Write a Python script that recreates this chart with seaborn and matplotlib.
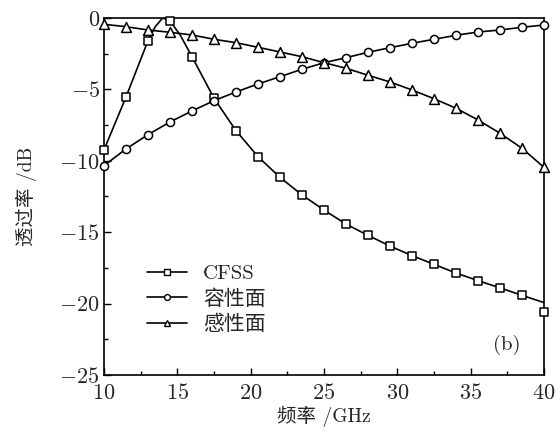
import matplotlib
matplotlib.use("Agg")
import matplotlib.pyplot as plt
from matplotlib.lines import Line2D
from matplotlib.ticker import MultipleLocator
import seaborn as sns
import pandas as pd

# ---- data ----
freq_markers = [10, 11.5, 13, 14.5, 16, 17.5, 19, 20.5, 22, 23.5, 25,
                26.5, 28, 29.5, 31, 32.5, 34, 35.5, 37, 38.5, 40]
cfss_markers = [-9.24, -5.53, -1.59, -0.19, -2.71, -5.62, -7.89, -9.71, -11.16,
                -12.39, -13.45, -14.43, -15.22, -15.97, -16.64, -17.25, -17.86,
                -18.39, -18.90, -19.42, -20.57]
cap_markers = [-10.34, -9.17, -8.17, -7.28, -6.51, -5.79, -5.18, -4.62, -4.11,
               -3.59, -3.13, -2.78, -2.40, -2.08, -1.77, -1.49, -1.21, -0.98,
               -0.84, -0.65, -0.49]
ind_markers = [-0.44, -0.61, -0.84, -1.00, -1.19, -1.49, -1.73, -2.05, -2.38,
               -2.71, -3.13, -3.52, -4.01, -4.48, -5.04, -5.65, -6.32, -7.14,
               -8.07, -9.12, -10.46]

cfss_line_x = [10, 11.5, 13, 13.5, 14.0, 14.5, 15.2, 16, 17.5, 19, 20.5, 22,
               23.5, 25, 26.5, 28, 29.5, 31, 32.5, 34, 35.5, 37, 38.5, 40]
cfss_line_y = [-9.24, -5.53, -1.59, -0.6, 0.0, -0.2, -1.2, -2.71, -5.62, -7.89,
               -9.71, -11.16, -12.39, -13.45, -14.43, -15.22, -15.97, -16.64,
               -17.25, -17.86, -18.39, -18.90, -19.42, -19.93]

labels = ["CFSS", "容性面", "感性面"]
marker_styles = ["s", "o", "^"]

sns.set_theme(style="white")
plt.rcParams["font.family"] = ["cmr10", "Noto Sans CJK SC", "DejaVu Sans"]
plt.rcParams["mathtext.fontset"] = "cm"
plt.rcParams["axes.formatter.use_mathtext"] = True
plt.rcParams["axes.unicode_minus"] = True

fig = plt.figure(figsize=(5.55, 4.36), dpi=100)
ax = fig.add_axes([104 / 555, 61 / 436, 440 / 555, 357 / 436])

lw = 1.2
mew = 1.1

df_line_cfss = pd.DataFrame({"x": cfss_line_x, "y": cfss_line_y})
sns.lineplot(data=df_line_cfss, x="x", y="y", ax=ax, color="black", lw=lw,
             zorder=2, sort=False)
df_cap = pd.DataFrame({"x": freq_markers, "y": cap_markers})
sns.lineplot(data=df_cap, x="x", y="y", ax=ax, color="black", lw=lw, zorder=2)
df_ind = pd.DataFrame({"x": freq_markers, "y": ind_markers})
sns.lineplot(data=df_ind, x="x", y="y", ax=ax, color="black", lw=lw, zorder=2)

for yvals, mk, msz in [(cfss_markers, "s", 28), (cap_markers, "o", 34), (ind_markers, "^", 50)]:
    d = pd.DataFrame({"x": freq_markers, "y": yvals})
    sns.scatterplot(data=d, x="x", y="y", ax=ax, marker=mk, s=msz,
                    facecolor="white", edgecolor="black", linewidth=mew,
                    zorder=3, clip_on=False)

ax.set_xlim(10, 40)
ax.set_ylim(-25, 0)
ax.xaxis.set_major_locator(MultipleLocator(5))
ax.xaxis.set_minor_locator(MultipleLocator(2.5))
ax.yaxis.set_major_locator(MultipleLocator(5))
ax.yaxis.set_minor_locator(MultipleLocator(2.5))
ax.tick_params(which="both", direction="in", top=False, right=False,
               bottom=True, left=True, color="black")
ax.tick_params(which="major", length=5, width=1.0, labelsize=16)
ax.tick_params(axis="x", which="major", pad=6)
ax.tick_params(axis="y", which="major", pad=3)
ax.tick_params(which="minor", length=3, width=1.0)
for sp in ax.spines.values():
    sp.set_color("black")
    sp.set_linewidth(1.2)

ax.set_xlabel("频率 /GHz", fontsize=14, labelpad=2)
ax.set_ylabel("透过率 /dB", fontsize=14, labelpad=16)

handles = [Line2D([], [], color="black", lw=lw, marker=m, markersize=4.2,
                  markerfacecolor="white", markeredgecolor="black",
                  markeredgewidth=1.0) for m in marker_styles]
ax.legend(handles, labels, loc="upper left", bbox_to_anchor=(0.098, 0.31),
          frameon=False, fontsize=15, handlelength=1.9, handletextpad=0.8,
          labelspacing=0.3, borderpad=0, borderaxespad=0)

ax.text(0.915, 0.085, "(b)", transform=ax.transAxes, fontsize=15,
        ha="center", va="center")

fig.savefig("out.png", dpi=100)
